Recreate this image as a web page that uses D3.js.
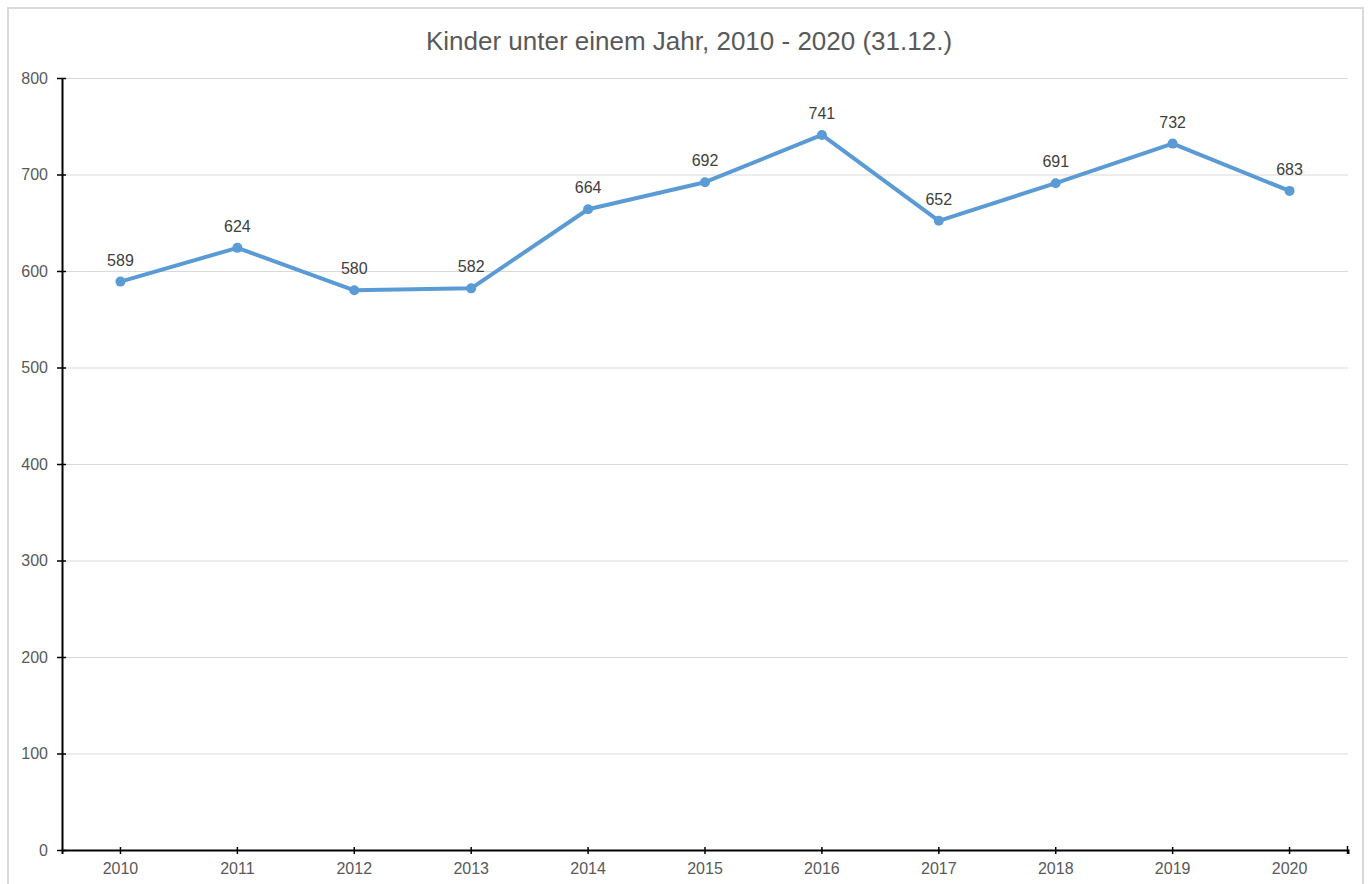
<!DOCTYPE html>
<html><head><meta charset="utf-8">
<script src="https://cdn.jsdelivr.net/npm/d3@7"></script>
<style>
html,body{margin:0;padding:0;background:#fff;}
svg{display:block;font-family:"Liberation Sans",Arial,sans-serif;}
</style></head>
<body><svg id="c" width="1371" height="884"></svg>
<script>
const years = ["2010","2011","2012","2013","2014","2015","2016","2017","2018","2019","2020"];
const values = [589,624,580,582,664,692,741,652,691,732,683];
const yTicks = [0,100,200,300,400,500,600,700,800];
const title = "Kinder unter einem Jahr, 2010 - 2020 (31.12.)";

const svg = d3.select("#c");
const W = 1371, H = 884;
const m = {left:62, right:1348, top:78, bottom:850};

// outer chart border
svg.append("rect").attr("x",8).attr("y",8).attr("width",1355).attr("height",H+10)
  .attr("fill","#fff").attr("stroke","#d9d9d9").attr("stroke-width",2);

svg.append("text").attr("x",689).attr("y",50).attr("text-anchor","middle")
  .attr("font-size",26).attr("fill","#595959").text(title);

const x = d3.scaleBand().domain(years).range([m.left,m.right]);
const y = d3.scaleLinear().domain([0,800]).range([m.bottom,m.top]);

// grid
svg.append("g").selectAll("line").data(yTicks.filter(d=>d>0)).join("line")
  .attr("x1",m.left).attr("x2",m.right)
  .attr("y1",d=>y(d)+0.5).attr("y2",d=>y(d)+0.5)
  .attr("stroke","#d9d9d9").attr("stroke-width",1);

// y axis
const ya = svg.append("g").attr("transform",`translate(${m.left},0)`)
  .call(d3.axisLeft(y).tickValues(yTicks).tickSize(5).tickSizeOuter(0).tickPadding(9));
ya.select(".domain").attr("stroke","#000").attr("stroke-width",2);
ya.selectAll(".tick line").attr("stroke","#000").attr("stroke-width",1.5).attr("x1",4);
ya.selectAll(".tick text").attr("font-size",16).attr("fill","#595959").attr("font-family","Liberation Sans, Arial, sans-serif");

// x axis
const xa = svg.append("g").attr("transform",`translate(0,${m.bottom})`)
  .call(d3.axisBottom(x).tickSize(4).tickSizeOuter(4).tickPadding(9));
xa.select(".domain").attr("stroke","#000").attr("stroke-width",2);
xa.selectAll(".tick line").attr("stroke","#000").attr("stroke-width",1.5).attr("y1",-3).attr("y2",4);
xa.selectAll(".tick text").attr("font-size",16).attr("fill","#595959").attr("font-family","Liberation Sans, Arial, sans-serif");
// right end tick
svg.append("line").attr("x1",m.right-0.5).attr("x2",m.right-0.5).attr("y1",m.bottom-4).attr("y2",m.bottom+4)
  .attr("stroke","#000").attr("stroke-width",1.5);

const cx = d => x(d) + x.bandwidth()/2;
const pts = years.map((d,i)=>({year:d,v:values[i]}));

svg.append("path").datum(pts)
  .attr("d", d3.line().x(d=>cx(d.year)).y(d=>y(d.v)))
  .attr("fill","none").attr("stroke","#5B9BD5").attr("stroke-width",4).attr("stroke-linejoin","round");

svg.append("g").selectAll("circle").data(pts).join("circle")
  .attr("cx",d=>cx(d.year)).attr("cy",d=>y(d.v)).attr("r",5)
  .attr("fill","#5B9BD5");

svg.append("g").selectAll("text").data(pts).join("text")
  .attr("x",d=>cx(d.year)).attr("y",d=>y(d.v)-16)
  .attr("text-anchor","middle").attr("font-size",16).attr("fill","#404040")
  .text(d=>d.v);
</script></body></html>
